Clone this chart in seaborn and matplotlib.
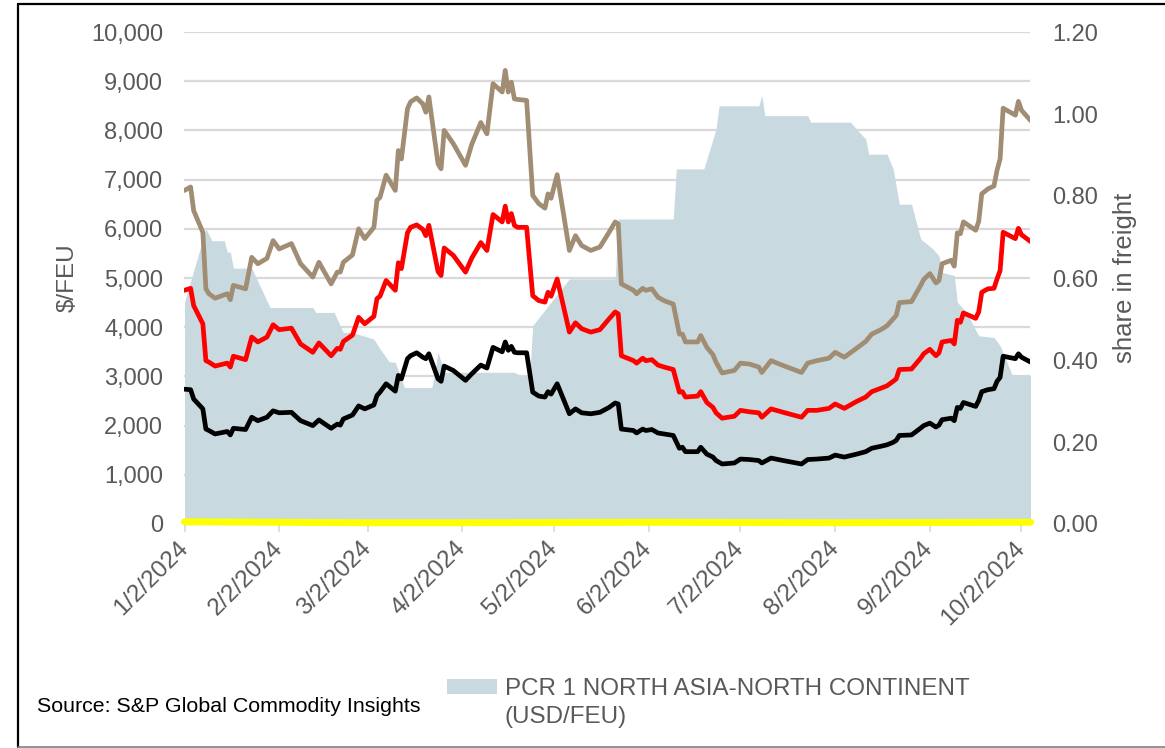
import matplotlib
matplotlib.use("Agg")
import matplotlib.pyplot as plt
import seaborn as sns
import pandas as pd
from matplotlib.patches import Patch
from matplotlib.lines import Line2D
from matplotlib.ticker import FuncFormatter

# ---------------- data ----------------
line_dates = [
    "01-02", "01-04", "01-05", "01-08", "01-09", "01-10", "01-12", "01-16", "01-17", "01-18",
    "01-22", "01-24", "01-26", "01-29", "01-31", "02-02", "02-06", "02-09", "02-13", "02-15",
    "02-19", "02-21", "02-22", "02-23", "02-26", "02-28", "03-01", "03-04", "03-05", "03-06",
    "03-08", "03-11", "03-12", "03-13", "03-15", "03-16", "03-18", "03-20", "03-21", "03-22",
    "03-25", "03-26", "03-27", "03-30", "04-03", "04-05", "04-08", "04-10", "04-12", "04-15",
    "04-16", "04-17", "04-18", "04-19", "04-20", "04-23", "04-25", "04-27", "04-29", "04-30",
    "05-01", "05-03", "05-07", "05-09", "05-11", "05-14", "05-17", "05-20", "05-22", "05-23",
    "05-24", "05-28", "05-29", "05-31", "06-01", "06-03", "06-05", "06-07", "06-10", "06-12",
    "06-13", "06-14", "06-18", "06-19", "06-21", "06-23", "06-24", "06-26", "06-30", "07-02",
    "07-05", "07-08", "07-09", "07-12", "07-16", "07-22", "07-24", "07-27", "07-31", "08-02",
    "08-05", "08-09", "08-12", "08-14", "08-17", "08-19", "08-21", "08-22", "08-23", "08-27",
    "08-30", "08-31", "09-02", "09-04", "09-05", "09-06", "09-09", "09-10", "09-11", "09-12",
    "09-13", "09-17", "09-18", "09-19", "09-21", "09-23", "09-24", "09-25", "09-26", "09-30",
    "10-01", "10-02", "10-05",
]
tan_rate = [
    6780, 6850, 6370, 5930, 4780, 4680, 4590, 4680, 4560, 4850,
    4780, 5420, 5290, 5400, 5760, 5590, 5700, 5290, 5020, 5320,
    4880, 5120, 5120, 5320, 5470, 6000, 5800, 6030, 6580, 6640,
    7090, 6780, 7590, 7420, 8440, 8580, 8660, 8540, 8370, 8680,
    7320, 7220, 8000, 7730, 7290, 7710, 8160, 7930, 8950, 8780,
    9220, 8780, 8980, 8640, 8630, 8610, 6680, 6510, 6420, 6710,
    6620, 7100, 5560, 5860, 5660, 5560, 5630, 5930, 6140, 6100,
    4880, 4750, 4680, 4790, 4750, 4780, 4610, 4540, 4470, 3860,
    3860, 3700, 3700, 3830, 3590, 3440, 3290, 3070, 3120, 3270,
    3250, 3190, 3080, 3320, 3220, 3080, 3270, 3320, 3370, 3490,
    3390, 3570, 3710, 3860, 3950, 4030, 4170, 4240, 4500, 4520,
    4850, 4970, 5090, 4900, 4950, 5290, 5360, 5240, 5920, 5900,
    6140, 5970, 6150, 6710, 6810, 6870, 7190, 7420, 8450, 8310,
    8590, 8410, 8200,
]
red_rate = [
    4750, 4790, 4440, 4070, 3320, 3290, 3210, 3270, 3190, 3410,
    3340, 3800, 3700, 3800, 4050, 3950, 3980, 3660, 3490, 3680,
    3420, 3570, 3550, 3710, 3840, 4200, 4070, 4220, 4580, 4630,
    4950, 4750, 5310, 5190, 5920, 6030, 6080, 5990, 5860, 6070,
    5130, 5050, 5610, 5460, 5120, 5400, 5720, 5560, 6290, 6140,
    6460, 6140, 6310, 6070, 6030, 6030, 4640, 4540, 4510, 4710,
    4630, 4980, 3900, 4090, 3970, 3900, 3950, 4170, 4310, 4270,
    3420, 3320, 3270, 3370, 3320, 3340, 3230, 3190, 3140, 2680,
    2690, 2580, 2600, 2690, 2470, 2370, 2260, 2150, 2190, 2310,
    2280, 2260, 2170, 2340, 2270, 2170, 2310, 2310, 2350, 2440,
    2350, 2490, 2580, 2690, 2760, 2810, 2900, 2950, 3140, 3150,
    3370, 3460, 3550, 3420, 3480, 3700, 3730, 3660, 4140, 4100,
    4290, 4180, 4310, 4710, 4780, 4790, 4980, 5150, 5930, 5800,
    6010, 5880, 5740,
]
black_rate = [
    2740, 2730, 2540, 2340, 1930, 1900, 1830, 1880, 1810, 1945,
    1920, 2170, 2100, 2170, 2300, 2260, 2270, 2100, 2000, 2115,
    1945, 2030, 2010, 2135, 2215, 2400, 2340, 2420, 2610, 2680,
    2850, 2700, 3020, 2950, 3360, 3420, 3480, 3390, 3360, 3460,
    2950, 2900, 3210, 3120, 2920, 3050, 3230, 3170, 3590, 3500,
    3700, 3530, 3610, 3490, 3480, 3480, 2680, 2600, 2580, 2690,
    2640, 2850, 2240, 2340, 2260, 2240, 2270, 2370, 2460, 2440,
    1930, 1900, 1850, 1930, 1900, 1920, 1850, 1830, 1800, 1540,
    1560, 1470, 1470, 1560, 1420, 1360, 1290, 1220, 1240, 1320,
    1310, 1290, 1240, 1340, 1290, 1220, 1310, 1320, 1340, 1400,
    1360, 1420, 1470, 1540, 1580, 1610, 1660, 1700, 1800, 1810,
    1950, 2000, 2050, 1970, 2010, 2120, 2150, 2100, 2370, 2350,
    2470, 2390, 2510, 2690, 2730, 2750, 2900, 2980, 3410, 3360,
    3460, 3390, 3290,
]

yellow_dates = ["01-02", "02-02", "03-01", "04-02", "05-02", "06-03", "07-02", "08-02", "09-02", "10-05"]
yellow_rate = [45, 35, 25, 25, 30, 35, 30, 25, 30, 35]

share_dates = [
    "01-02", "01-09", "01-11", "01-15", "01-16", "01-17", "01-18", "01-24", "01-30", "02-13",
    "02-14", "02-20", "02-23", "02-26", "03-01", "03-04", "03-06", "03-09", "03-11", "03-14",
    "03-23", "03-25", "03-27", "04-19", "04-21", "04-24", "04-25", "05-07", "05-22", "05-23",
    "06-10", "06-11", "06-20", "06-21", "06-23", "06-24", "06-25", "07-08", "07-09", "07-10",
    "07-24", "07-25", "08-07", "08-10", "08-12", "08-13", "08-19", "08-21", "08-23", "08-27",
    "08-30", "09-03", "09-05", "09-06", "09-10", "09-11", "09-14", "09-18", "09-23", "09-25",
    "09-29", "10-05",
]
share_in_freight = [
    0.541, 0.720, 0.691, 0.691, 0.663, 0.663, 0.624, 0.624, 0.528, 0.528,
    0.516, 0.516, 0.467, 0.467, 0.458, 0.451, 0.427, 0.396, 0.394, 0.333,
    0.333, 0.419, 0.370, 0.370, 0.362, 0.362, 0.484, 0.598, 0.598, 0.744,
    0.744, 0.866, 0.866, 0.890, 0.939, 0.963, 1.020, 1.020, 1.045, 0.996,
    0.996, 0.980, 0.980, 0.955, 0.939, 0.902, 0.902, 0.866, 0.780, 0.780,
    0.695, 0.671, 0.654, 0.614, 0.606, 0.541, 0.516, 0.459, 0.455, 0.435,
    0.363, 0.363,
]

tick_dates = ["01-02", "02-02", "03-02", "04-02", "05-02", "06-02", "07-02", "08-02", "09-02", "10-02"]
tick_labels = ["1/2/2024", "2/2/2024", "3/2/2024", "4/2/2024", "5/2/2024",
               "6/2/2024", "7/2/2024", "8/2/2024", "9/2/2024", "10/2/2024"]
left_ticks = list(range(0, 10001, 1000))
right_ticks = [0.0, 0.2, 0.4, 0.6, 0.8, 1.0, 1.2]

legend_label = "PCR 1 NORTH ASIA-NORTH CONTINENT"
legend_label_2 = "(USD/FEU)"
source_text = "Source: S&P Global Commodity Insights"

# ---------------- styling ----------------
TAN = "#A08D73"
RED = "#FF0000"
BLACK = "#000000"
YELLOW = "#FFFF00"
AREA = "#C8DAE0"
GRID = "#D9D9D9"
TXT = "#595959"

sns.set_theme(style="white")
plt.rcParams["font.family"] = ["Liberation Sans", "DejaVu Sans"]


def to_dt(md):
    return pd.to_datetime(["2024-" + d for d in md])


df = pd.DataFrame({"date": to_dt(line_dates), "tan": tan_rate, "red": red_rate, "black": black_rate})
dfy = pd.DataFrame({"date": to_dt(yellow_dates), "v": yellow_rate})
dfs = pd.DataFrame({"date": to_dt(share_dates), "share": share_in_freight})

W, H = 1165, 748
fig = plt.figure(figsize=(W / 100, H / 100), dpi=100)
L, R, T, B = 184, 1030, 32, 524
ax = fig.add_axes([L / W, 1 - B / H, (R - L) / W, (B - T) / H])
ax2 = ax.twinx()   # share in freight (area)
ax3 = ax.twinx()   # $/FEU lines drawn above the area

xlo = pd.Timestamp("2024-01-01 20:00")
xhi = pd.Timestamp("2024-10-04 19:00")

# base axis: gridlines + left ticks
ax.set_ylim(0, 10000)
ax.set_yticks(left_ticks)
ax.yaxis.set_major_formatter(FuncFormatter(lambda v, p: f"{int(v):,}"))
ax.grid(axis="y", color=GRID, linewidth=1.6)
ax.grid(axis="x", visible=False)
ax.set_axisbelow(True)
for s in ["left", "right", "top"]:
    ax.spines[s].set_visible(False)
ax.spines["bottom"].set_color(GRID)
ax.spines["bottom"].set_linewidth(1.2)
ax.tick_params(axis="y", length=0, pad=15, labelsize=17, labelcolor=TXT)
ax.set_ylabel("$/FEU", fontsize=17.5, color=TXT)
ax.yaxis.label.set_va("center")
ax.yaxis.set_label_coords((68 - L) / (R - L), 0.5)

# area on the right axis
ax2.fill_between(dfs["date"], dfs["share"], 0, color=AREA, linewidth=0)
ax2.set_ylim(0, 1.2)
ax2.set_yticks(right_ticks)
ax2.yaxis.set_major_formatter(FuncFormatter(lambda v, p: f"{v:.2f}"))
ax2.tick_params(axis="y", length=0, pad=16, labelsize=17, labelcolor=TXT)
for s in ax2.spines.values():
    s.set_visible(False)
ax2.set_ylabel("share in freight", fontsize=18.5, color=TXT, rotation=90)
ax2.yaxis.label.set_va("center")
ax2.yaxis.set_label_coords((1125 - L) / (R - L), 0.5)

# lines
kw = dict(linewidth=3.4, legend=False, solid_joinstyle="round", solid_capstyle="round")
sns.lineplot(data=df, x="date", y="tan", color=TAN, ax=ax3, **kw)
sns.lineplot(data=df, x="date", y="red", color=RED, ax=ax3, **kw)
sns.lineplot(data=df, x="date", y="black", color=BLACK, ax=ax3, **kw)
sns.lineplot(data=dfy, x="date", y="v", color=YELLOW, ax=ax3, clip_on=False,
             linewidth=5, legend=False, solid_capstyle="round")
ax3.set_ylim(0, 10000)
ax3.set_axis_off()

# x axis
ax.set_xlim(xlo, xhi)
ax.set_xticks(to_dt(tick_dates))
ax.set_xticklabels(tick_labels)
ax.set_xlabel("")
ax.tick_params(axis="x", bottom=True, length=6, width=1.2, color=GRID, direction="out",
               pad=9, labelsize=17.5, labelcolor=TXT)
for lab in ax.get_xticklabels():
    lab.set_rotation(45)
    lab.set_ha("right")
    lab.set_va("center")
    lab.set_rotation_mode("anchor")

# legend + source
handle = Patch(facecolor=AREA, edgecolor="none")
fig.legend([handle], [legend_label], loc="upper left",
           bbox_to_anchor=(447 / W, 1 - 678 / H), frameon=False, fontsize=17.4,
           handlelength=2.05, handleheight=0.55, handletextpad=0.33,
           labelcolor=TXT, borderpad=0, borderaxespad=0)
fig.text(505 / W, 1 - 717 / H, legend_label_2, fontsize=17.4, color=TXT, va="center", ha="left")
fig.text(37 / W, 1 - 706 / H, source_text, fontsize=15.4, color="black", va="center", ha="left")

# outer frame
fig.add_artist(Line2D([17.5 / W, 1], [1 - 3.5 / H, 1 - 3.5 / H], color="black", lw=1.6))
fig.add_artist(Line2D([17.5 / W, 17.5 / W], [1 - 746.5 / H, 1 - 3.5 / H], color="black", lw=1.6))
fig.add_artist(Line2D([17.5 / W, 1], [1 - 746.5 / H, 1 - 746.5 / H], color="#7F7F7F", lw=1.2))

fig.savefig("out.png", dpi=100)
